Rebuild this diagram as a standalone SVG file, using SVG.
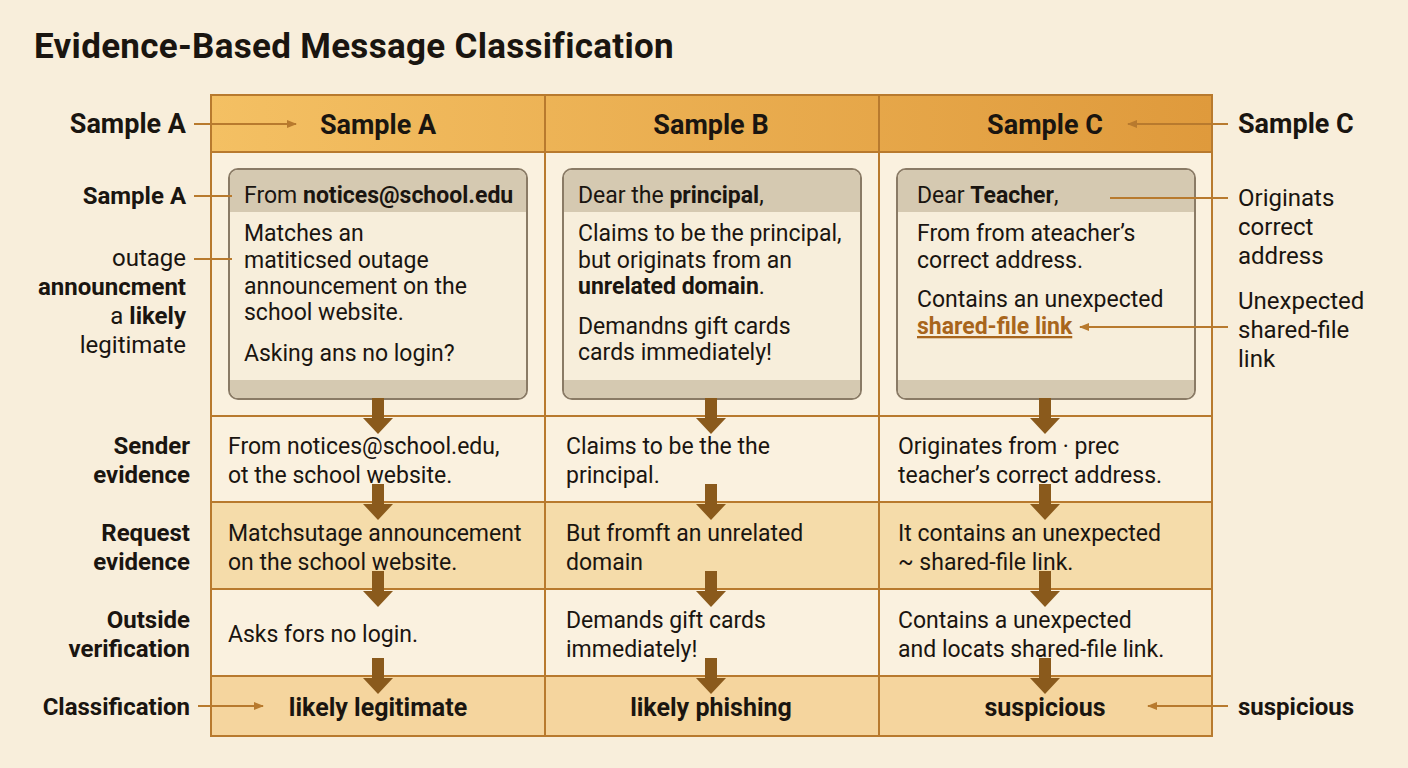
<svg xmlns="http://www.w3.org/2000/svg" width="1408" height="768" viewBox="0 0 1408 768">
<defs>
<style>
text{font-family:Roboto,"Liberation Sans",sans-serif;fill:#1a1510}
.t{font-size:23px}
.b{font-weight:bold}
.h{font-size:27px;font-weight:bold}
.grid{fill:none;stroke:#b87a2e;stroke-width:2}
.card{fill:#f7eedb;stroke:#8a7b66;stroke-width:2}
.bar{fill:#d5c9b1}
.ln{stroke:#b87a2e;stroke-width:2;fill:none}
.ar{fill:#8a5a1c}
</style>
<marker id="m" viewBox="0 0 10 10" refX="9" refY="5" markerWidth="10" markerHeight="10" orient="auto" markerUnits="userSpaceOnUse"><path d="M0,1 L10,5 L0,9 Z" fill="#b87a2e"/></marker>
<linearGradient id="hd" x1="0" x2="1"><stop offset="0" stop-color="#f4c063"/><stop offset="1" stop-color="#df9a3c"/></linearGradient>
<symbol id="dn" overflow="visible"><rect x="-6" y="-20" width="12" height="22" class="ar"/><path d="M-15,0 L15,0 L0,16 Z" class="ar"/></symbol>
</defs>
<rect width="1408" height="768" fill="#f8eedb"/>
<text x="34" y="58" style="font-size:35px;font-weight:bold;letter-spacing:0.3px">Evidence-Based Message Classification</text>

<g id="table">
<rect x="211" y="95" width="1001" height="57" fill="url(#hd)"/>
<rect x="211" y="152" width="1001" height="264" fill="#faf1df"/>
<rect x="211" y="416" width="1001" height="86" fill="#faf1df"/>
<rect x="211" y="502" width="1001" height="87" fill="#f5dcaa"/>
<rect x="211" y="589" width="1001" height="87" fill="#faf1df"/>
<rect x="211" y="676" width="1001" height="60" fill="#f5d59e"/>
<rect x="211" y="95" width="1001" height="641" class="grid"/>
<path class="grid" d="M545,95V736 M879,95V736 M211,152H1212 M211,416H1212 M211,502H1212 M211,589H1212 M211,676H1212"/>
<text x="378" y="134" class="h" text-anchor="middle">Sample A</text>
<text x="711" y="134" class="h" text-anchor="middle">Sample B</text>
<text x="1045" y="134" class="h" text-anchor="middle">Sample C</text>
</g>

<g id="cardA">
<rect x="229" y="169" width="298" height="230" rx="9" class="card"/>
<path d="M230,212V178a8,8 0 0 1 8,-8H518a8,8 0 0 1 8,8V212Z" class="bar"/>
<path d="M230,380H526V390a8,8 0 0 1 -8,8H238a8,8 0 0 1 -8,-8Z" class="bar"/>
<text x="244" y="203" class="t">From <tspan class="b">notices@school.edu</tspan></text>
<text x="244" y="241" class="t">Matches an</text>
<text x="244" y="268" class="t">matiticsed outage</text>
<text x="244" y="294" class="t">announcement on the</text>
<text x="244" y="320" class="t">school website.</text>
<text x="244" y="361" class="t">Asking ans no login?</text>
</g>
<g id="cardB">
<rect x="563" y="169" width="298" height="230" rx="9" class="card"/>
<path d="M564,212V178a8,8 0 0 1 8,-8H852a8,8 0 0 1 8,8V212Z" class="bar"/>
<path d="M564,380H860V390a8,8 0 0 1 -8,8H572a8,8 0 0 1 -8,-8Z" class="bar"/>
<text x="578" y="203" class="t">Dear the <tspan class="b">principal</tspan>,</text>
<text x="578" y="241" class="t">Claims to be the principal,</text>
<text x="578" y="268" class="t">but originats from an</text>
<text x="578" y="294" class="t b">unrelated domain<tspan style="font-weight:normal">.</tspan></text>
<text x="578" y="334" class="t">Demandns gift cards</text>
<text x="578" y="360" class="t">cards immediately!</text>
</g>
<g id="cardC">
<rect x="897" y="169" width="298" height="230" rx="9" class="card"/>
<path d="M898,212V178a8,8 0 0 1 8,-8H1186a8,8 0 0 1 8,8V212Z" class="bar"/>
<path d="M898,380H1194V390a8,8 0 0 1 -8,8H906a8,8 0 0 1 -8,-8Z" class="bar"/>
<text x="917" y="203" class="t">Dear <tspan class="b">Teacher</tspan>,</text>
<text x="917" y="241" class="t">From from ateacher’s</text>
<text x="917" y="268" class="t">correct address.</text>
<text x="917" y="307" class="t">Contains an unexpected</text>
<text x="917" y="334" class="t b" style="fill:#a8651c;text-decoration:underline">shared-file link</text>
</g>

<g id="cells">
<text x="228" y="454" class="t">From notices@school.edu,</text>
<text x="228" y="483" class="t">ot the school website.</text>
<text x="566" y="454" class="t">Claims to be the the</text>
<text x="566" y="483" class="t">principal.</text>
<text x="898" y="454" class="t">Originates from · prec</text>
<text x="898" y="483" class="t">teacher’s correct address.</text>
<text x="228" y="541" class="t">Matchsutage announcement</text>
<text x="228" y="570" class="t">on the school website.</text>
<text x="566" y="541" class="t">But fromft an unrelated</text>
<text x="566" y="570" class="t">domain</text>
<text x="898" y="541" class="t">It contains an unexpected</text>
<text x="898" y="570" class="t">~ shared-file link.</text>
<text x="228" y="642" class="t">Asks fors no login.</text>
<text x="566" y="628" class="t">Demands gift cards</text>
<text x="566" y="657" class="t">immediately!</text>
<text x="898" y="628" class="t">Contains a unexpected</text>
<text x="898" y="657" class="t">and locats shared-file link.</text>
<text x="378" y="716" class="t b" text-anchor="middle" style="font-size:25px">likely legitimate</text>
<text x="711" y="716" class="t b" text-anchor="middle" style="font-size:25px">likely phishing</text>
<text x="1045" y="716" class="t b" text-anchor="middle" style="font-size:25px">suspicious</text>
</g>

<g id="labels">
<text x="186" y="133" class="h" text-anchor="end">Sample A</text>
<text x="1238" y="133" class="h">Sample C</text>
<text x="186" y="204" class="t b" text-anchor="end" style="font-size:24px">Sample A</text>
<text x="186" y="266" class="t" text-anchor="end" style="font-size:24px">outage</text>
<text x="186" y="295" class="t b" text-anchor="end" style="font-size:24px">announcment</text>
<text x="186" y="324" class="t" text-anchor="end" style="font-size:24px">a <tspan class="b">likely</tspan></text>
<text x="186" y="353" class="t" text-anchor="end" style="font-size:24px">legitimate</text>
<text x="1238" y="206" class="t" style="font-size:24px">Originats</text>
<text x="1238" y="235" class="t" style="font-size:24px">correct</text>
<text x="1238" y="264" class="t" style="font-size:24px">address</text>
<text x="1238" y="309" class="t" style="font-size:24px">Unexpected</text>
<text x="1238" y="338" class="t" style="font-size:24px">shared-file</text>
<text x="1238" y="367" class="t" style="font-size:24px">link</text>
<text x="190" y="454" class="t b" text-anchor="end" style="font-size:24px">Sender</text>
<text x="190" y="483" class="t b" text-anchor="end" style="font-size:24px">evidence</text>
<text x="190" y="541" class="t b" text-anchor="end" style="font-size:24px">Request</text>
<text x="190" y="570" class="t b" text-anchor="end" style="font-size:24px">evidence</text>
<text x="190" y="628" class="t b" text-anchor="end" style="font-size:24px">Outside</text>
<text x="190" y="657" class="t b" text-anchor="end" style="font-size:24px">verification</text>
<text x="190" y="715" class="t b" text-anchor="end" style="font-size:24px">Classification</text>
<text x="1238" y="715" class="t b" style="font-size:24px">suspicious</text>
</g>

<g id="connectors">
<path class="ln" marker-end="url(#m)" d="M194,124H296"/>
<path class="ln" marker-end="url(#m)" d="M1228,124H1128"/>
<path class="ln" d="M194,196H232"/>
<path class="ln" d="M194,259H232"/>
<path class="ln" d="M1228,198H1110"/>
<path class="ln" marker-end="url(#m)" d="M1228,327H1080"/>
<path class="ln" marker-end="url(#m)" d="M198,706H263"/>
<path class="ln" marker-end="url(#m)" d="M1228,706H1148"/>
<use href="#dn" x="378" y="418"/><use href="#dn" x="711" y="418"/><use href="#dn" x="1045" y="418"/>
<use href="#dn" x="378" y="504"/><use href="#dn" x="711" y="504"/><use href="#dn" x="1045" y="504"/>
<use href="#dn" x="378" y="591"/><use href="#dn" x="711" y="591"/><use href="#dn" x="1045" y="591"/>
<use href="#dn" x="378" y="678"/><use href="#dn" x="711" y="678"/><use href="#dn" x="1045" y="678"/>
</g>
</svg>
